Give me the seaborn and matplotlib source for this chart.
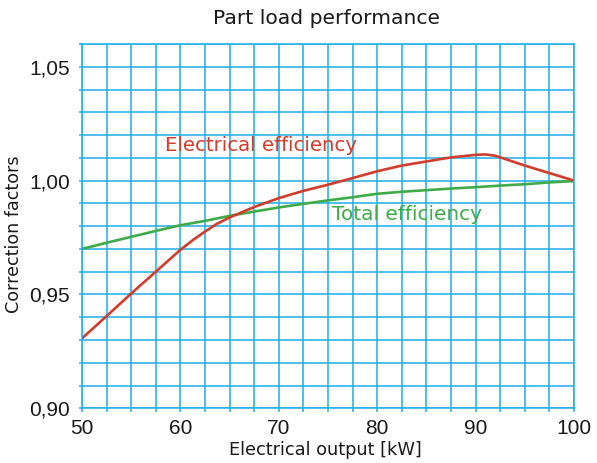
import matplotlib
matplotlib.use("Agg")
import matplotlib.pyplot as plt
import seaborn as sns
from matplotlib.ticker import MultipleLocator, FuncFormatter

# values
elec_kw = [50, 52.5, 55, 57.5, 60, 61.3, 62.5, 63.7, 65, 66.4, 67.5, 70,
           72.5, 75, 77.5, 80, 82.5, 85, 87.5, 90, 91, 92, 92.5, 95, 97.5, 100]
electrical_eff = [0.9307, 0.9405, 0.9504, 0.9600, 0.9696, 0.9740, 0.9776,
                  0.9810, 0.9838, 0.9864, 0.9884, 0.9923, 0.9955, 0.9982,
                  1.0011, 1.0041, 1.0066, 1.0084, 1.0102, 1.0113, 1.0115,
                  1.0109, 1.0102, 1.0066, 1.0033, 1.0000]

total_kw = [50, 52.5, 55, 57.5, 60, 62.5, 65, 67.5, 70, 72.5, 75,
            77.5, 80, 82.5, 85, 87.5, 90, 92.5, 95, 97.5, 100]
total_eff = [0.9700, 0.9727, 0.9753, 0.9779, 0.9804, 0.9823, 0.9845,
             0.9864, 0.9882, 0.9898, 0.9913, 0.9927, 0.9942, 0.9951,
             0.9958, 0.9965, 0.9971, 0.9978, 0.9984, 0.9992, 0.9998]

grid_col = "#1faee5"
red = "#d23c2c"
green = "#3fab48"

sns.set_style("white")
plt.rcParams["font.family"] = ["DejaVu Sans"]

fig = plt.figure(figsize=(5.97, 4.63), dpi=100)
ax = fig.add_axes([0.1374, 0.1182, 0.8241, 0.7868])

sns.lineplot(x=total_kw, y=total_eff, color=green, linewidth=1.9, ax=ax)
sns.lineplot(x=elec_kw, y=electrical_eff, color=red, linewidth=1.9, ax=ax)

ax.set_xlim(50, 100)
ax.set_ylim(0.90, 1.06)
ax.xaxis.set_major_locator(MultipleLocator(10))
ax.xaxis.set_minor_locator(MultipleLocator(2.5))
ax.yaxis.set_major_locator(MultipleLocator(0.05))
ax.yaxis.set_minor_locator(MultipleLocator(0.01))
ax.yaxis.set_major_formatter(FuncFormatter(lambda v, p: f"{v:.2f}".replace(".", ",")))

ax.set_axisbelow(True)
ax.grid(True, which="both", color=grid_col, linewidth=1.1)
for s in ax.spines.values():
    s.set_color(grid_col)
    s.set_linewidth(1.1)

ax.tick_params(axis="x", which="both", length=3, width=1.1, color=grid_col,
               bottom=True, pad=4.5)
ax.tick_params(axis="y", which="both", length=2.5, width=1.1, color=grid_col,
               left=True, pad=6)
ax.tick_params(axis="both", labelsize=15, labelcolor="#1a1a1a",
               labelfontfamily="Liberation Sans")

ax.set_xlabel("Electrical output [kW]", fontsize=12.8, color="#1a1a1a")
ax.set_ylabel("Correction factors", fontsize=12.6, color="#1a1a1a")
ax.xaxis.set_label_coords(0.495, -0.09)
ax.yaxis.set_label_coords(-0.12, 0.478)

fig.text(0.547, 1 - 18 / 463, "Part load performance", fontsize=14.6,
         ha="center", va="center", color="#1a1a1a")

ax.text(58.4, 1.0153, "Electrical efficiency", color=red, fontsize=14.2,
        va="center", ha="left")
ax.text(75.4, 0.985, "Total efficiency", color=green, fontsize=14.4,
        va="center", ha="left")

fig.savefig("out.png", dpi=100)
